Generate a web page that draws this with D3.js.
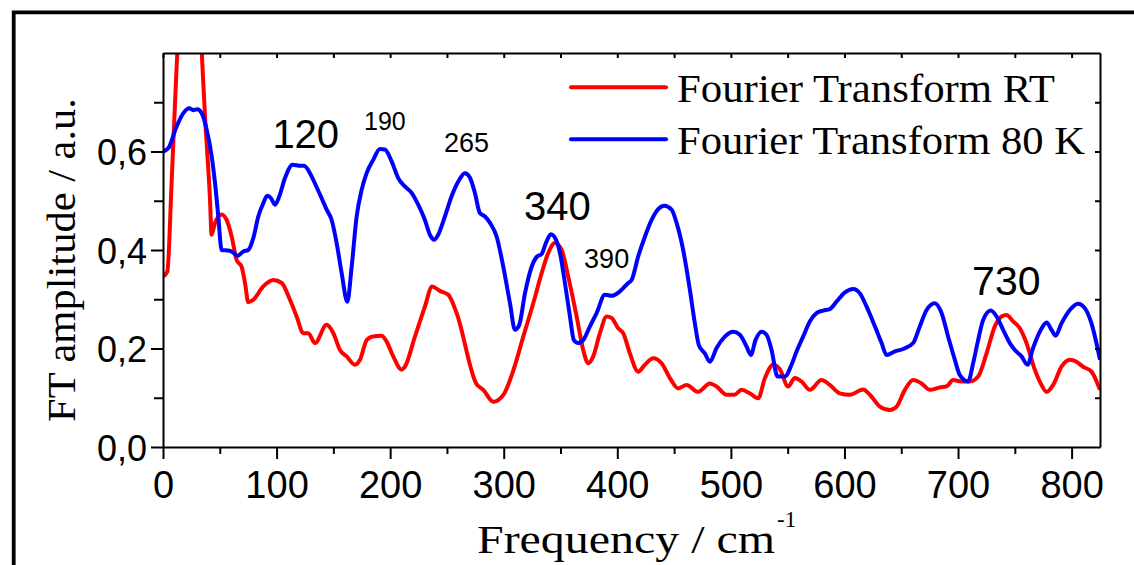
<!DOCTYPE html>
<html><head><meta charset="utf-8">
<script src="https://cdn.jsdelivr.net/npm/d3@7"></script>
<style>html,body{margin:0;padding:0;background:#fff;}svg{display:block;}</style>
</head><body>
<svg id="chart" width="1134" height="565"></svg>
<script>
// ---- data ----
const seriesNames = ["Fourier Transform RT", "Fourier Transform 80 K"];
const rtFreq = [0,3.8,7.6,12,18,24,30,34,37,41.4,42.8,45.8,51.6,56,60.5,64.8,69.2,72.2,75.1,79.5,88.3,97.1,104.5,111.8,117.7,123.5,127.9,133.8,144,150,155.8,161.7,169,173.4,179.3,183.7,192.5,196.9,202.7,210.1,213,221.8,230.6,237,243.8,251.2,258.5,276,282,290.8,300,308.4,317.2,326,333.4,339.2,345,351,356.8,364.2,370,374.4,378.8,384.7,390.6,395,400.8,405.2,411.1,418.4,424.3,431.6,439,446.3,453.6,461,471.2,481.5,487.4,496.2,503,509.4,516.7,524,530,537.2,543.1,550.4,556.3,562.2,569.5,579.8,587.1,595.9,604.8,616.5,622.4,631.2,640,645.9,653.2,660.5,667.9,675.2,684,689.9,695.7,703,710.4,717.7,725.1,732.4,738.3,742.7,748.5,754.4,760.3,767.6,773.5,777.9,783.7,791.1,798.4,804.3,810.1,817.5,825];
const rtAmp = [0.346,0.356,0.537,0.773,0.95,1.05,0.98,0.807,0.671,0.502,0.431,0.455,0.472,0.461,0.427,0.380,0.366,0.333,0.294,0.299,0.326,0.339,0.333,0.299,0.265,0.231,0.231,0.211,0.248,0.231,0.197,0.184,0.167,0.177,0.217,0.224,0.226,0.214,0.184,0.157,0.163,0.224,0.285,0.326,0.317,0.309,0.272,0.128,0.116,0.092,0.107,0.155,0.224,0.292,0.353,0.394,0.414,0.400,0.346,0.265,0.197,0.170,0.184,0.231,0.265,0.262,0.241,0.231,0.190,0.153,0.167,0.180,0.170,0.140,0.119,0.126,0.112,0.129,0.123,0.106,0.106,0.116,0.109,0.099,0.140,0.167,0.158,0.123,0.140,0.133,0.116,0.136,0.126,0.109,0.106,0.117,0.106,0.082,0.075,0.082,0.116,0.136,0.129,0.116,0.121,0.123,0.136,0.133,0.133,0.143,0.190,0.245,0.265,0.268,0.255,0.241,0.211,0.157,0.126,0.112,0.126,0.163,0.177,0.173,0.163,0.153,0.116];
const k80Freq = [0,4.7,12,17.9,23.2,26.7,30.2,34,38.5,42.9,45.8,48.7,51.6,57.5,61.9,65.4,70.7,75.1,79.5,83.9,88.3,91.8,95.1,98.6,102.4,107.4,114.2,120.6,124.1,129.4,133.8,139.7,144.1,148.5,152.9,157.3,162.3,166.1,170.5,174.9,179.3,185.1,191,195.4,201.3,207.1,213,218.9,224.7,230.6,235,238.8,242.3,248.2,254.1,260,265.8,270.2,274.6,279,283.5,287.9,293.8,299.6,305.5,309.9,313.7,318.7,324.6,329,333.4,337.1,341.5,346,349.5,353.9,358.3,361.8,365.6,370,375.9,381.8,389.1,395,402.3,409.6,412.6,418.4,424.3,430.2,436,441.3,447.8,452.2,458,463.9,468.3,471.8,477.1,481.5,487.4,494.7,502,507.9,513.8,517.6,521.7,527,531.4,535.8,541.1,547.5,553.4,557.8,563.6,569.5,575.4,581.2,587.1,593,600.4,607.7,613.6,619.5,626.8,632.7,637.1,644.4,651.7,660.5,666.4,672.3,679.6,685.5,691.3,697.2,701.6,708.9,713.3,717.7,722.1,728.9,734,739.7,745.6,750,755.9,761.2,766.1,772.9,777.9,782.3,785.8,791.1,798.4,805.7,811.6,817.5,825];
const k80Amp = [0.600,0.607,0.651,0.678,0.688,0.684,0.686,0.678,0.644,0.590,0.536,0.468,0.400,0.399,0.395,0.388,0.397,0.400,0.424,0.468,0.495,0.510,0.505,0.492,0.509,0.546,0.573,0.571,0.571,0.556,0.535,0.505,0.482,0.461,0.414,0.353,0.295,0.366,0.468,0.522,0.556,0.583,0.605,0.604,0.580,0.546,0.529,0.516,0.492,0.461,0.431,0.421,0.431,0.468,0.509,0.539,0.556,0.547,0.516,0.475,0.468,0.455,0.427,0.366,0.292,0.238,0.248,0.312,0.366,0.386,0.392,0.414,0.432,0.421,0.394,0.333,0.265,0.217,0.211,0.217,0.245,0.272,0.309,0.307,0.316,0.333,0.339,0.387,0.427,0.461,0.483,0.490,0.482,0.455,0.400,0.319,0.251,0.207,0.190,0.173,0.201,0.224,0.234,0.228,0.204,0.187,0.217,0.234,0.228,0.197,0.143,0.143,0.167,0.194,0.224,0.255,0.272,0.277,0.280,0.295,0.314,0.321,0.312,0.285,0.245,0.211,0.187,0.194,0.199,0.211,0.245,0.278,0.292,0.272,0.224,0.177,0.146,0.133,0.170,0.217,0.258,0.277,0.265,0.238,0.211,0.197,0.184,0.167,0.201,0.238,0.253,0.238,0.226,0.251,0.278,0.291,0.282,0.251,0.177];
const xTickValues = [0,100,200,300,400,500,600,700,800];
const yTickValues = [0,0.2,0.4,0.6];
const peakLabels = ["120","190","265","340","390","730"];
const peakLabelFreq = [125.7,195.4,267.3,347.3,390.6,742.5];
const peakLabelAmp = [0.608,0.644,0.598,0.461,0.364,0.309];

// ---- layout ----
const svg = d3.select("#chart");
const X0 = 163, X1 = 1100, Y0 = 447, Y1 = 53;
const x = d3.scaleLinear().domain([0, 825]).range([X0, X1]);
const y = d3.scaleLinear().domain([0, 0.8]).range([Y0, Y1]);
const sansFont = "'Liberation Sans', Arial, sans-serif";
const serifFont = "'Liberation Serif', 'Times New Roman', serif";

// outer frame
svg.append("path").attr("d", "M13.7,570 V12.3 H1140")
  .attr("fill", "none").attr("stroke", "#000").attr("stroke-width", 3.8);

// clip
svg.append("defs").append("clipPath").attr("id", "clip")
  .append("rect").attr("x", X0).attr("y", Y1).attr("width", X1 - X0).attr("height", Y0 - Y1);

// curves
const line = d3.line().x(d => x(d[0])).y(d => y(d[1])).curve(d3.curveMonotoneX);
const rtData = rtFreq.map((f, i) => [f, rtAmp[i]]);
const k80Data = k80Freq.map((f, i) => [f, k80Amp[i]]);
const colors = ["#ff0000", "#0000ff"];
const plotG = svg.append("g").attr("clip-path", "url(#clip)");
plotG.append("path").datum(rtData).attr("d", line).attr("fill", "none")
  .attr("stroke", colors[0]).attr("stroke-width", 4).attr("stroke-linejoin", "round");
plotG.append("path").datum(k80Data).attr("d", line).attr("fill", "none")
  .attr("stroke", colors[1]).attr("stroke-width", 4).attr("stroke-linejoin", "round");

// axes
const fmtY = d => d3.format(".1f")(d).replace(".", ",");
const minorX = d3.range(50, 825, 100);
const minorY = [0.1, 0.3, 0.5, 0.7];

function styleAxis(sel) {
  sel.select(".domain").attr("stroke", "#000").attr("stroke-width", 2);
  sel.selectAll(".tick line").attr("stroke", "#000").attr("stroke-width", 2);
}

const bottomAxisG = svg.append("g").attr("transform", `translate(0,${Y0})`)
  .call(d3.axisBottom(x).tickValues(xTickValues).tickSize(12).tickSizeOuter(0).tickPadding(12));
styleAxis(bottomAxisG);
bottomAxisG.selectAll(".tick text").attr("font-family", sansFont).attr("font-size", 38).attr("fill", "#000")
  .attr("dy", null).attr("y", 51);
const bottomMinorG = svg.append("g").attr("transform", `translate(0,${Y0})`)
  .call(d3.axisBottom(x).tickValues(minorX).tickSize(7).tickFormat(""));
bottomMinorG.select(".domain").remove();
styleAxis(bottomMinorG);

const leftAxisG = svg.append("g").attr("transform", `translate(${X0},0)`)
  .call(d3.axisLeft(y).tickValues(yTickValues).tickSize(12).tickSizeOuter(0).tickPadding(4).tickFormat(fmtY));
styleAxis(leftAxisG);
leftAxisG.selectAll(".tick text").attr("font-family", sansFont).attr("font-size", 36).attr("fill", "#000")
  .attr("dy", null).attr("y", 13).attr("x", -16);
const leftMinorG = svg.append("g").attr("transform", `translate(${X0},0)`)
  .call(d3.axisLeft(y).tickValues(minorY).tickSize(9).tickFormat(""));
leftMinorG.select(".domain").remove();
styleAxis(leftMinorG);

const topAxisG = svg.append("g").attr("transform", `translate(0,${Y1})`)
  .call(d3.axisBottom(x).tickValues(d3.range(0, 825, 50)).tickSize(5).tickSizeOuter(0).tickFormat(""));
styleAxis(topAxisG);
const rightAxisG = svg.append("g").attr("transform", `translate(${X1},0)`)
  .call(d3.axisLeft(y).tickValues(d3.range(0.1, 0.8, 0.1)).tickSize(5).tickSizeOuter(0).tickFormat(""));
styleAxis(rightAxisG);

// axis titles
svg.append("text").attr("transform", "translate(75,260) rotate(-90)")
  .attr("text-anchor", "middle").attr("font-family", serifFont).attr("font-size", 41)
  .attr("textLength", 324).attr("lengthAdjust", "spacingAndGlyphs").attr("fill", "#000")
  .text("FT amplitude / a.u.");
svg.append("text").attr("x", 477).attr("y", 553)
  .attr("font-family", serifFont).attr("font-size", 41)
  .attr("textLength", 298).attr("lengthAdjust", "spacingAndGlyphs").attr("fill", "#000")
  .text("Frequency / cm");
svg.append("text").attr("x", 777).attr("y", 527)
  .attr("font-family", serifFont).attr("font-size", 23).attr("fill", "#000").text("-1");

// peak labels
const peakSizes = [40, 25, 27, 40, 27, 41];
peakLabels.forEach((t, i) => {
  svg.append("text").attr("x", x(peakLabelFreq[i])).attr("y", y(peakLabelAmp[i]))
    .attr("text-anchor", "middle").attr("font-family", sansFont).attr("font-size", peakSizes[i])
    .attr("fill", "#000").text(t);
});

// legend
const legendY = [87.3, 139.3];
const legendLen = [378, 408];
seriesNames.forEach((name, i) => {
  svg.append("line").attr("x1", 571).attr("x2", 666).attr("y1", legendY[i]).attr("y2", legendY[i])
    .attr("stroke", colors[i]).attr("stroke-width", 4).attr("stroke-linecap", "round");
  svg.append("text").attr("x", 677).attr("y", legendY[i] + 14.5)
    .attr("font-family", serifFont).attr("font-size", 39)
    .attr("textLength", legendLen[i]).attr("lengthAdjust", "spacingAndGlyphs")
    .attr("fill", "#000").text(name);
});
</script>
</body></html>
